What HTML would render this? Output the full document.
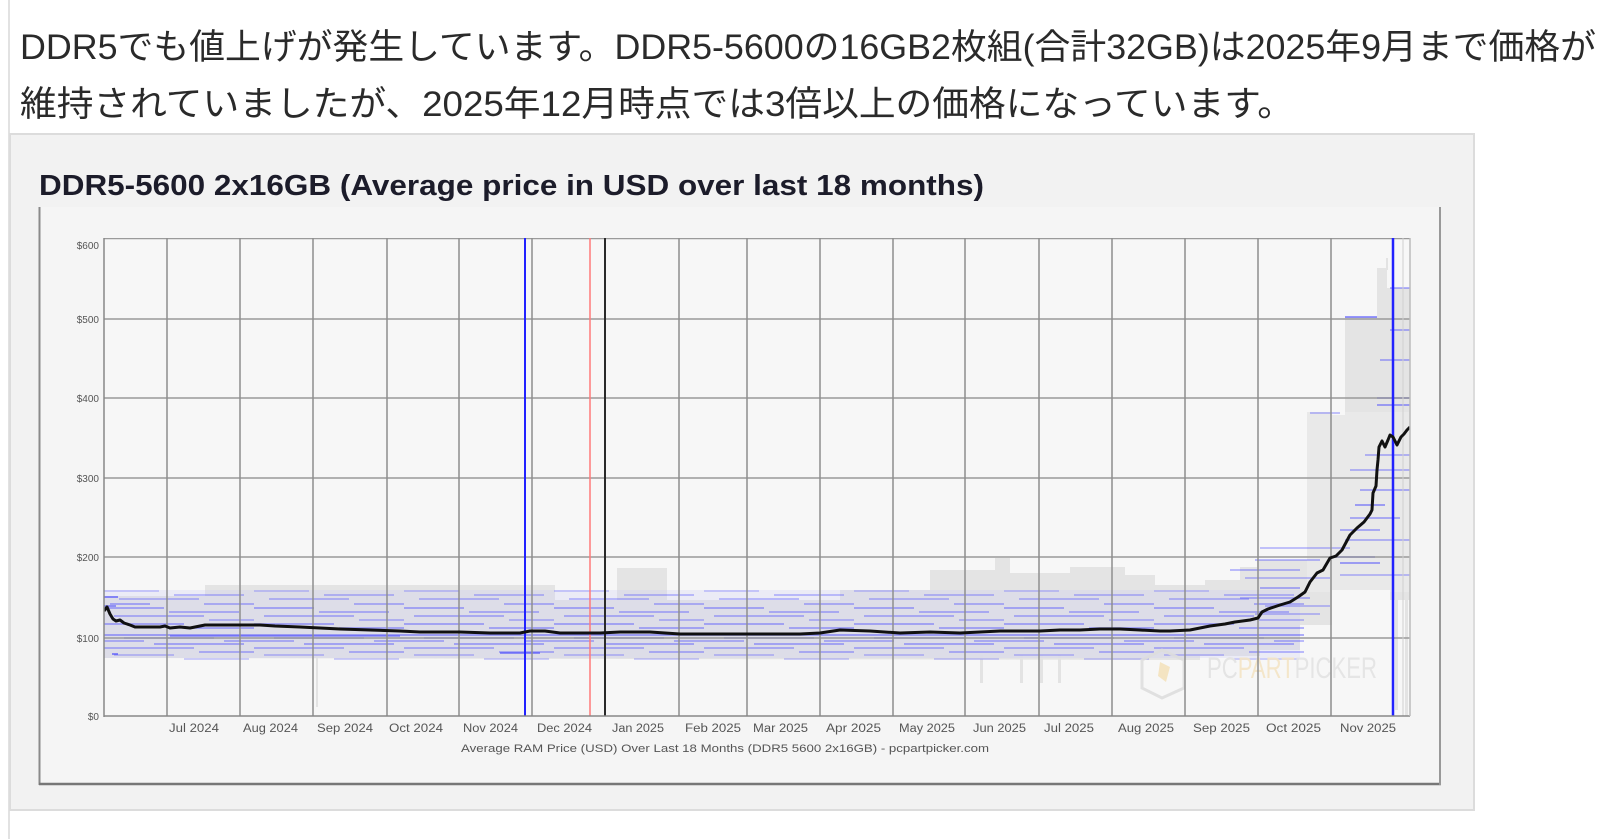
<!DOCTYPE html>
<html><head><meta charset="utf-8"><style>
html,body{margin:0;padding:0;background:#fff;width:1615px;height:839px;overflow:hidden}
svg{display:block}
</style></head><body>
<svg width="1615" height="839" viewBox="0 0 1615 839" xmlns="http://www.w3.org/2000/svg">
<defs>
<pattern id="bl" patternUnits="userSpaceOnUse" x="104" y="585" width="150" height="80">
<g stroke="#4040ff" stroke-width="1.4">
<line x1="0" x2="55" y1="6" y2="6" stroke-opacity=".3"/>
<line x1="70" x2="140" y1="10" y2="10" stroke-opacity=".4"/>
<line x1="15" x2="95" y1="14" y2="14" stroke-opacity=".4"/>
<line x1="100" x2="150" y1="19" y2="19" stroke-opacity=".45"/>
<line x1="0" x2="60" y1="23" y2="23" stroke-opacity=".5"/>
<line x1="65" x2="135" y1="27" y2="27" stroke-opacity=".45"/>
<line x1="10" x2="100" y1="31" y2="31" stroke-opacity=".45"/>
<line x1="105" x2="150" y1="35" y2="35" stroke-opacity=".4"/>
<line x1="0" x2="80" y1="39" y2="39" stroke-opacity=".5"/>
<line x1="85" x2="150" y1="43" y2="43" stroke-opacity=".5"/>
<line x1="0" x2="150" y1="50" y2="50" stroke-opacity=".55"/>
<line x1="20" x2="110" y1="53" y2="53" stroke-opacity=".6"/>
<line x1="0" x2="40" y1="56" y2="56" stroke-opacity=".45"/>
<line x1="120" x2="150" y1="56" y2="56" stroke-opacity=".45"/>
<line x1="50" x2="140" y1="59" y2="59" stroke-opacity=".5"/>
<line x1="0" x2="90" y1="63" y2="63" stroke-opacity=".45"/>
<line x1="95" x2="150" y1="67" y2="67" stroke-opacity=".45"/>
<line x1="10" x2="70" y1="70" y2="70" stroke-opacity=".35"/>
<line x1="80" x2="145" y1="74" y2="74" stroke-opacity=".3"/>
</g>
</pattern>
<clipPath id="plotclip"><rect x="104" y="238" width="1306" height="478"/></clipPath>
</defs>

<!-- page left border -->
<rect x="8" y="0" width="2" height="839" fill="#e2e2e2"/>

<!-- paragraph -->
<g font-family="'Liberation Sans','Noto Sans CJK JP',sans-serif" fill="#2a2a2a" font-size="35">
<text x="20" y="59" textLength="1576" lengthAdjust="spacingAndGlyphs">DDR5でも値上げが発生しています。DDR5-5600の16GB2枚組(合計32GB)は2025年9月まで価格が</text>
<text x="20" y="116" textLength="1274" lengthAdjust="spacingAndGlyphs">維持されていましたが、2025年12月時点では3倍以上の価格になっています。</text>
</g>

<!-- outer box -->
<rect x="10" y="134" width="1464" height="676" fill="#f2f2f2" stroke="#dcdcdc" stroke-width="2"/>

<!-- title -->
<text x="39" y="195" font-family="'Liberation Sans',sans-serif" font-weight="bold" font-size="29" fill="#1c1c2a" textLength="945" lengthAdjust="spacingAndGlyphs">DDR5-5600 2x16GB (Average price in USD over last 18 months)</text>

<!-- inner chart panel -->
<rect x="39" y="207" width="1401" height="577" fill="#f5f5f5"/>
<line x1="39.5" y1="207" x2="39.5" y2="785" stroke="#8a8a8a" stroke-width="2"/>
<line x1="39" y1="784" x2="1441" y2="784" stroke="#777" stroke-width="2.5"/>
<line x1="1440" y1="207" x2="1440" y2="785" stroke="#999" stroke-width="2"/>

<!-- plot area -->
<rect x="104" y="238" width="1306" height="478" fill="#f7f7f7"/>

<g clip-path="url(#plotclip)">
<!-- gray range band -->
<polygon fill="#e4e4e4" points="104,596 205,596 205,585 555,585 555,600 617,600 617,568 667,568 667,600 840,600 840,590 930,590 930,570 995,570 995,558 1010,558 1010,573 1070,573 1070,567 1125,567 1125,575 1155,575 1155,585 1205,585 1205,580 1240,580 1240,567 1257,567 1257,560 1307,560 1307,412 1332,412 1332,415 1345,415 1345,317 1377,317 1377,268 1387,268 1387,288 1410,288 1410,600 1390,600 1390,590 1332,590 1332,625 1300,625 1300,650 1260,650 1260,656 1200,656 1200,660 104,658"/>
<rect x="1307" y="412" width="103" height="180" fill="#f7f7f7" opacity="0.25"/>
<rect x="1386" y="258" width="2" height="12" fill="#e3e3e3"/>
<!-- gray stubs -->
<g fill="#e3e3e3">
<rect x="316" y="655" width="2" height="52"/>
<rect x="980" y="655" width="3" height="28"/>
<rect x="1020" y="655" width="3" height="28"/>
<rect x="1040" y="655" width="3" height="28"/>
<rect x="1058" y="655" width="3" height="28"/>
<rect x="1395" y="600" width="3" height="110"/>
<rect x="1405" y="600" width="3" height="116"/>
</g>
<!-- blue wash + lines texture -->
<rect x="104" y="590" width="1196" height="68" fill="#c8c8f4" opacity="0.25"/>
<rect x="104" y="585" width="1200" height="78" fill="url(#bl)"/>
<g stroke="#4040ff" stroke-width="1.4">
<line x1="104" x2="118" y1="597" y2="597" stroke-opacity=".8"/>
<line x1="104" x2="116" y1="606" y2="606" stroke-opacity=".7"/>
<line x1="110" x2="150" y1="604" y2="604" stroke-opacity=".5"/>
<line x1="112" x2="118" y1="654" y2="654" stroke-opacity=".8"/>
<line x1="170" x2="400" y1="636" y2="636" stroke-opacity=".55"/>
<line x1="500" x2="540" y1="653" y2="653" stroke-opacity=".7"/>
<line x1="1230" x2="1300" y1="570" y2="570" stroke-opacity=".45"/>
<line x1="1245" x2="1330" y1="578" y2="578" stroke-opacity=".4"/>
<line x1="1255" x2="1320" y1="560" y2="560" stroke-opacity=".45"/>
<line x1="1260" x2="1300" y1="588" y2="588" stroke-opacity=".5"/>
<line x1="1240" x2="1310" y1="598" y2="598" stroke-opacity=".45"/>
<line x1="1265" x2="1330" y1="606" y2="606" stroke-opacity=".4"/>
<line x1="1255" x2="1320" y1="614" y2="614" stroke-opacity=".4"/>
<line x1="1260" x2="1350" y1="548" y2="548" stroke-opacity=".4"/>
<line x1="1335" x2="1375" y1="557" y2="557" stroke-opacity=".8"/>
<line x1="1340" x2="1380" y1="563" y2="563" stroke-opacity=".6"/>
<line x1="1340" x2="1410" y1="575" y2="575" stroke-opacity=".4"/>
<line x1="1345" x2="1410" y1="540" y2="540" stroke-opacity=".45"/>
<line x1="1340" x2="1380" y1="530" y2="530" stroke-opacity=".5"/>
<line x1="1350" x2="1400" y1="518" y2="518" stroke-opacity=".5"/>
<line x1="1355" x2="1385" y1="505" y2="505" stroke-opacity=".6"/>
<line x1="1360" x2="1410" y1="490" y2="490" stroke-opacity=".5"/>
<line x1="1350" x2="1410" y1="470" y2="470" stroke-opacity=".45"/>
<line x1="1365" x2="1410" y1="455" y2="455" stroke-opacity=".45"/>
<line x1="1377" x2="1410" y1="398" y2="398" stroke-opacity=".85"/>
<line x1="1377" x2="1410" y1="405" y2="405" stroke-opacity=".6"/>
<line x1="1380" x2="1410" y1="360" y2="360" stroke-opacity=".5"/>
<line x1="1390" x2="1410" y1="330" y2="330" stroke-opacity=".5"/>
<line x1="1390" x2="1410" y1="288" y2="288" stroke-opacity=".5"/>
<line x1="1345" x2="1377" y1="317" y2="317" stroke-opacity=".7"/>
<line x1="1310" x2="1340" y1="413" y2="413" stroke-opacity=".4"/>
</g>

<!-- watermark -->
<g opacity="0.9">
<polygon points="1142,660 1162,650 1184,660 1184,688 1162,698 1142,688" fill="none" stroke="#dedede" stroke-width="3"/>
<polygon points="1160,662 1170,667 1166,682 1158,676" fill="#f4e3bd"/>
<text x="1207" y="678" font-family="'Liberation Sans Narrow','Liberation Sans',sans-serif" font-size="30" textLength="170" lengthAdjust="spacingAndGlyphs"><tspan fill="#e2e2e2">PC</tspan><tspan fill="#f4e5c6">PART</tspan><tspan fill="#e4e4e4">PICKER</tspan></text>
</g>

<!-- horizontal gridlines -->
<g stroke="#9a9a9a" stroke-width="1.5">
<line x1="104" x2="1410" y1="238.5" y2="238.5"/>
<line x1="104" x2="1410" y1="319" y2="319"/>
<line x1="104" x2="1410" y1="398" y2="398"/>
<line x1="104" x2="1410" y1="478" y2="478"/>
<line x1="104" x2="1410" y1="557" y2="557"/>
<line x1="104" x2="1410" y1="638" y2="638"/>
</g>
<!-- vertical gridlines -->
<g stroke="#8e8e8e" stroke-width="1.5">
<line x1="167" x2="167" y1="238" y2="716"/>
<line x1="240" x2="240" y1="238" y2="716"/>
<line x1="313" x2="313" y1="238" y2="716"/>
<line x1="387" x2="387" y1="238" y2="716"/>
<line x1="459" x2="459" y1="238" y2="716"/>
<line x1="532" x2="532" y1="238" y2="716"/>
<line x1="679" x2="679" y1="238" y2="716"/>
<line x1="747" x2="747" y1="238" y2="716"/>
<line x1="820" x2="820" y1="238" y2="716"/>
<line x1="893" x2="893" y1="238" y2="716"/>
<line x1="965" x2="965" y1="238" y2="716"/>
<line x1="1039" x2="1039" y1="238" y2="716"/>
<line x1="1112" x2="1112" y1="238" y2="716"/>
<line x1="1185" x2="1185" y1="238" y2="716"/>
<line x1="1258" x2="1258" y1="238" y2="716"/>
<line x1="1331" x2="1331" y1="238" y2="716"/>
</g>
<line x1="1403" x2="1403" y1="238" y2="716" stroke="#cfcfcf" stroke-width="1"/>
<line x1="605" x2="605" y1="238" y2="716" stroke="#2a2a2a" stroke-width="2"/>
<line x1="590" x2="590" y1="238" y2="716" stroke="#ff7a7a" stroke-width="1.5"/>
<line x1="525" x2="525" y1="238" y2="716" stroke="#2222ff" stroke-width="2"/>
<line x1="1393" x2="1393" y1="238" y2="716" stroke="#2222ff" stroke-width="2.5"/>

<!-- average price line -->
<polyline fill="none" stroke="#111" stroke-width="3" stroke-linejoin="round" points="104,611 107,607 110,614 113,619 116,621 120,620 124,623 130,625 135,627 150,627 160,627 165,626 170,628 180,627 190,628 200,626 205,625 230,625 260,625 275,626 300,627 320,628 340,629 370,630 400,631 420,632 460,632 490,633 520,633 530,631 545,631 560,633 600,633 620,632 650,632 680,634 700,634 720,634 760,634 800,634 820,633 840,630 870,631 900,633 930,632 960,633 980,632 1000,631 1020,631 1040,631 1060,630 1080,630 1100,629 1120,629 1140,630 1160,631 1170,631 1190,630 1200,628 1210,626 1225,624 1235,622 1250,620 1258,618 1262,612 1268,609 1280,605 1290,602 1298,597 1305,592 1310,582 1317,573 1323,570 1330,558 1336,556 1342,550 1350,535 1357,528 1364,522 1370,514 1372,510 1373,493 1376,486 1377,470 1378,460 1379,447 1382,441 1385,447 1388,440 1390,435 1393,437 1397,445 1401,437 1404,434 1407,430 1410,427"/>
</g>

<!-- axes -->
<line x1="104" x2="104" y1="238" y2="717" stroke="#888" stroke-width="1.5"/>
<line x1="104" x2="1410" y1="716" y2="716" stroke="#888" stroke-width="1.5"/>
<line x1="1410" x2="1410" y1="238" y2="716" stroke="#bbb" stroke-width="1.5"/>

<!-- y labels -->
<g font-family="'Liberation Sans',sans-serif" font-size="10" fill="#555" text-anchor="end">
<text x="99" y="249">$600</text>
<text x="99" y="323">$500</text>
<text x="99" y="402">$400</text>
<text x="99" y="482">$300</text>
<text x="99" y="561">$200</text>
<text x="99" y="642">$100</text>
<text x="99" y="720">$0</text>
</g>

<!-- x labels -->
<g font-family="'Liberation Sans',sans-serif" font-size="11.5" fill="#555">
<text x="169" y="732" textLength="50" lengthAdjust="spacingAndGlyphs">Jul 2024</text>
<text x="243" y="732" textLength="55" lengthAdjust="spacingAndGlyphs">Aug 2024</text>
<text x="317" y="732" textLength="56" lengthAdjust="spacingAndGlyphs">Sep 2024</text>
<text x="389" y="732" textLength="54" lengthAdjust="spacingAndGlyphs">Oct 2024</text>
<text x="463" y="732" textLength="55" lengthAdjust="spacingAndGlyphs">Nov 2024</text>
<text x="537" y="732" textLength="55" lengthAdjust="spacingAndGlyphs">Dec 2024</text>
<text x="612" y="732" textLength="52" lengthAdjust="spacingAndGlyphs">Jan 2025</text>
<text x="685" y="732" textLength="56" lengthAdjust="spacingAndGlyphs">Feb 2025</text>
<text x="753" y="732" textLength="55" lengthAdjust="spacingAndGlyphs">Mar 2025</text>
<text x="826" y="732" textLength="55" lengthAdjust="spacingAndGlyphs">Apr 2025</text>
<text x="899" y="732" textLength="56" lengthAdjust="spacingAndGlyphs">May 2025</text>
<text x="973" y="732" textLength="53" lengthAdjust="spacingAndGlyphs">Jun 2025</text>
<text x="1044" y="732" textLength="50" lengthAdjust="spacingAndGlyphs">Jul 2025</text>
<text x="1118" y="732" textLength="56" lengthAdjust="spacingAndGlyphs">Aug 2025</text>
<text x="1193" y="732" textLength="57" lengthAdjust="spacingAndGlyphs">Sep 2025</text>
<text x="1266" y="732" textLength="55" lengthAdjust="spacingAndGlyphs">Oct 2025</text>
<text x="1340" y="732" textLength="56" lengthAdjust="spacingAndGlyphs">Nov 2025</text>
</g>
<text x="461" y="752" font-family="'Liberation Sans',sans-serif" font-size="11" fill="#555" textLength="528" lengthAdjust="spacingAndGlyphs">Average RAM Price (USD) Over Last 18 Months (DDR5 5600 2x16GB) - pcpartpicker.com</text>
</svg>
</body></html>
